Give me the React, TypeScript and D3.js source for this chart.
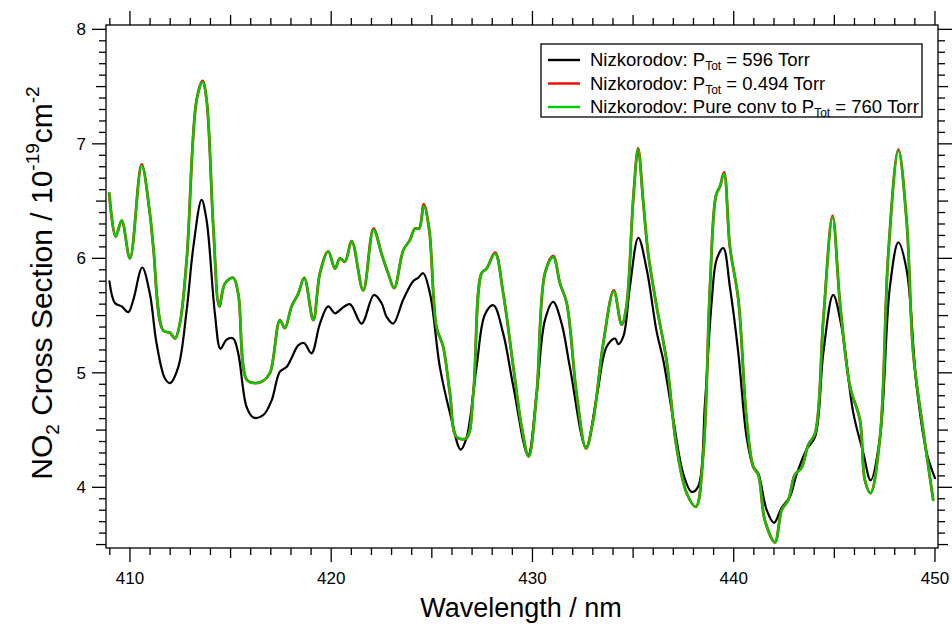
import React from "react";
import * as d3 from "d3";

const greenWl = [408.97, 409.29, 409.59, 410.0, 410.58, 410.99, 411.16, 411.65, 411.99, 412.24, 412.48, 412.82, 413.31, 413.61, 413.81, 414.14, 414.44, 414.72, 415.13, 415.38, 415.8, 416.21, 416.62, 416.96, 417.45, 417.7, 418.03, 418.36, 418.66, 419.11, 419.44, 419.85, 420.19, 420.43, 420.68, 421.02, 421.59, 422.1, 422.5, 422.83, 423.13, 423.58, 423.91, 424.16, 424.37, 424.6, 424.87, 425.23, 425.56, 425.9, 426.23, 426.72, 427.06, 427.47, 427.72, 428.14, 428.55, 429.05, 429.46, 429.81, 430.21, 430.62, 431.03, 431.37, 431.7, 432.19, 432.66, 433.02, 433.52, 434.04, 434.43, 434.67, 435.0, 435.25, 435.5, 435.75, 436.17, 436.66, 437.16, 437.66, 438.12, 438.49, 438.82, 439.12, 439.32, 439.52, 439.81, 440.23, 440.64, 440.97, 441.22, 441.55, 442.05, 442.38, 442.71, 443.04, 443.37, 443.7, 444.04, 444.45, 444.91, 445.28, 445.78, 446.27, 446.52, 446.8, 447.27, 447.68, 448.18, 448.59, 448.92, 449.34, 449.91];
const greenVal = [6.57, 6.19, 6.33, 6.0, 6.81, 6.39, 6.1, 5.37, 5.35, 5.3, 5.43, 5.99, 7.38, 7.54, 7.38, 6.28, 5.58, 5.78, 5.83, 5.69, 4.94, 4.91, 4.93, 5.0, 5.46, 5.39, 5.58, 5.69, 5.83, 5.46, 5.87, 6.06, 5.91, 6.0, 5.97, 6.15, 5.72, 6.25, 6.04, 5.87, 5.74, 6.07, 6.16, 6.26, 6.26, 6.46, 6.25, 5.4, 5.23, 4.82, 4.44, 4.43, 4.82, 5.87, 5.91, 6.04, 5.69, 5.05, 4.53, 4.27, 4.82, 5.87, 6.01, 5.78, 5.61, 4.82, 4.34, 4.59, 5.26, 5.71, 5.42, 5.58, 6.5, 6.95, 6.5, 6.04, 5.58, 5.11, 4.35, 3.95, 3.83, 4.3, 5.75, 6.55, 6.63, 6.74, 6.1, 5.64, 4.59, 4.18, 4.11, 3.71, 3.52, 3.8, 3.89, 4.11, 4.17, 4.37, 4.47, 5.46, 6.36, 5.61, 4.88, 4.59, 4.06, 3.95, 4.44, 6.04, 6.94, 6.33, 5.17, 4.59, 3.89];
const redVal = [6.57, 6.19, 6.33, 6.0, 6.82, 6.39, 6.1, 5.37, 5.35, 5.3, 5.43, 5.99, 7.38, 7.55, 7.38, 6.28, 5.58, 5.78, 5.83, 5.69, 4.94, 4.91, 4.93, 5.0, 5.46, 5.39, 5.58, 5.69, 5.83, 5.46, 5.87, 6.06, 5.91, 6.0, 5.97, 6.15, 5.72, 6.26, 6.04, 5.87, 5.74, 6.07, 6.16, 6.26, 6.26, 6.47, 6.25, 5.4, 5.23, 4.82, 4.44, 4.43, 4.82, 5.87, 5.91, 6.05, 5.69, 5.05, 4.53, 4.27, 4.82, 5.87, 6.02, 5.78, 5.61, 4.82, 4.34, 4.59, 5.26, 5.72, 5.42, 5.58, 6.5, 6.96, 6.5, 6.04, 5.58, 5.11, 4.35, 3.95, 3.83, 4.3, 5.75, 6.55, 6.63, 6.75, 6.1, 5.64, 4.59, 4.18, 4.11, 3.71, 3.52, 3.8, 3.89, 4.11, 4.17, 4.37, 4.47, 5.46, 6.37, 5.61, 4.88, 4.59, 4.06, 3.95, 4.44, 6.04, 6.95, 6.33, 5.17, 4.59, 3.89];

const blackWl = [408.98, 409.25, 409.59, 409.92, 410.17, 410.61, 410.99, 411.32, 411.74, 411.99, 412.4, 412.82, 413.15, 413.56, 413.81, 414.22, 414.5, 414.8, 415.13, 415.38, 415.8, 416.13, 416.62, 417.04, 417.45, 417.78, 418.03, 418.36, 418.65, 419.02, 419.44, 419.85, 420.19, 420.51, 420.93, 421.51, 422.12, 422.5, 422.75, 423.08, 423.58, 424.07, 424.32, 424.57, 424.91, 425.4, 425.9, 426.43, 426.72, 427.22, 427.64, 428.06, 428.55, 429.05, 429.78, 430.21, 430.62, 431.03, 431.45, 431.86, 432.66, 433.19, 433.69, 434.1, 434.27, 434.52, 434.84, 435.26, 435.68, 436.17, 436.5, 437.0, 437.49, 437.91, 438.24, 438.57, 438.9, 439.15, 439.48, 439.81, 440.23, 440.64, 440.97, 441.22, 441.64, 442.0, 442.38, 442.8, 443.12, 443.62, 444.04, 444.45, 444.94, 445.36, 445.94, 446.44, 446.8, 447.27, 447.76, 448.18, 448.59, 449.09, 449.59, 450.0];
const blackVal = [5.8, 5.61, 5.58, 5.53, 5.64, 5.92, 5.69, 5.26, 4.95, 4.91, 5.05, 5.55, 6.1, 6.51, 6.33, 5.52, 5.21, 5.29, 5.3, 5.17, 4.7, 4.61, 4.63, 4.76, 5.01, 5.05, 5.13, 5.24, 5.26, 5.17, 5.43, 5.58, 5.52, 5.56, 5.6, 5.43, 5.68, 5.61, 5.49, 5.43, 5.64, 5.8, 5.83, 5.87, 5.69, 5.05, 4.65, 4.33, 4.43, 5.05, 5.51, 5.59, 5.34, 4.88, 4.28, 4.82, 5.46, 5.62, 5.43, 5.05, 4.35, 4.79, 5.23, 5.3, 5.25, 5.32, 5.75, 6.18, 5.9, 5.36, 5.11, 4.59, 4.12, 3.96, 4.01, 4.73, 5.61, 5.99, 6.09, 5.75, 5.17, 4.44, 4.18, 4.12, 3.8, 3.69, 3.82, 3.92, 4.11, 4.33, 4.44, 5.17, 5.68, 5.4, 4.65, 4.3, 4.06, 4.44, 5.75, 6.14, 5.9, 4.88, 4.3, 4.08];

const xMajor = [410, 420, 430, 440, 450];
const yMajor = [4, 5, 6, 7, 8];

const legendSeries = [
  { color: "#000000", pre: "Nizkorodov: P", post: " = 596 Torr" },
  { color: "#ff0000", pre: "Nizkorodov: P", post: " = 0.494 Torr" },
  { color: "#00cc00", pre: "Nizkorodov: Pure conv to P", post: " = 760 Torr" },
];

const W = 952, H = 626;
const L = 106, R = 938, T = 25, B = 548;
const FONT = "'Liberation Sans', Arial, Helvetica, sans-serif";

export default function App() {
  const x = d3.scaleLinear().domain([408.81, 450.15]).range([L, R]);
  const y = d3.scaleLinear().domain([3.47, 8.038]).range([B, T]);
  const line = d3
    .line<[number, number]>()
    .x((d) => x(d[0]))
    .y((d) => y(d[1]))
    .curve(d3.curveCatmullRom.alpha(0.5));
  const zip = (a: number[], b: number[]) => a.map((v, i) => [v, b[i]] as [number, number]);

  const xMinor = d3.range(409, 451, 1).filter((v) => v % 10 !== 0);
  const yMinor = d3.range(35, 80, 1).filter((v) => v % 10 !== 0).map((v) => v / 10);
  const tickLen = (isMid: boolean) => (isMid ? 10 : 7);

  return (
    <svg width={W} height={H} style={{ position: "absolute", left: 0, top: 0, background: "#fff" }} fontFamily={FONT}>
      <defs>
        <clipPath id="plot">
          <rect x={L} y={T} width={R - L} height={B - T} />
        </clipPath>
      </defs>
      <rect x={0} y={0} width={W} height={H} fill="#fff" />
      <g clipPath="url(#plot)" fill="none" strokeLinejoin="round" strokeLinecap="round">
        <path d={line(zip(blackWl, blackVal)) || ""} stroke="#000" strokeWidth={2.2} />
        <path d={line(zip(greenWl, redVal)) || ""} stroke="#ff0000" strokeWidth={2.8} />
        <path d={line(zip(greenWl, greenVal)) || ""} stroke="#00cc00" strokeWidth={2.4} />
      </g>
      <rect x={L} y={T} width={R - L} height={B - T} fill="none" stroke="#000" strokeWidth={1.3} />
      <g stroke="#000" strokeWidth={1.3}>
        {xMajor.map((v) => (
          <g key={"xm" + v}>
            <line x1={x(v)} x2={x(v)} y1={B} y2={B + 14} />
            <line x1={x(v)} x2={x(v)} y1={T} y2={T - 14} />
          </g>
        ))}
        {xMinor.map((v) => {
          const len = tickLen(v % 5 === 0);
          return (
            <g key={"xn" + v}>
              <line x1={x(v)} x2={x(v)} y1={B} y2={B + len} />
              <line x1={x(v)} x2={x(v)} y1={T} y2={T - len} />
            </g>
          );
        })}
        {yMajor.map((v) => (
          <g key={"ym" + v}>
            <line x1={L} x2={L - 14} y1={y(v)} y2={y(v)} />
            <line x1={R} x2={R + 14} y1={y(v)} y2={y(v)} />
          </g>
        ))}
        {yMinor.map((v) => {
          const len = tickLen(Math.round(v * 10) % 5 === 0);
          return (
            <g key={"yn" + v}>
              <line x1={L} x2={L - len} y1={y(v)} y2={y(v)} />
              <line x1={R} x2={R + len} y1={y(v)} y2={y(v)} />
            </g>
          );
        })}
      </g>
      <g fontSize={17} fill="#000">
        {xMajor.map((v) => (
          <text key={"xl" + v} x={x(v)} y={584} textAnchor="middle">
            {v}
          </text>
        ))}
        {yMajor.map((v) => (
          <text key={"yl" + v} x={86} y={y(v) + 6} textAnchor="end">
            {v}
          </text>
        ))}
      </g>
      <text x={521} y={617} textAnchor="middle" fontSize={27} fill="#000">
        Wavelength / nm
      </text>
      <text transform="translate(52,283) rotate(-90)" textAnchor="middle" fontSize={30} fill="#000">
        NO
        <tspan fontSize={19} dy={7}>2</tspan>
        <tspan dy={-7}> Cross Section / 10</tspan>
        <tspan fontSize={19} dy={-13}>-19</tspan>
        <tspan dy={13}>cm</tspan>
        <tspan fontSize={19} dy={-13}>-2</tspan>
      </text>
      <rect x={541} y={44} width={381} height={73} fill="#fff" stroke="#000" strokeWidth={1.3} />
      {legendSeries.map((s, i) => {
        const cy = 60 + i * 23.5;
        return (
          <g key={"lg" + i}>
            <line x1={548} x2={580} y1={cy} y2={cy} stroke={s.color} strokeWidth={2.4} />
            <text x={590} y={cy + 6} fontSize={18.5} fill="#000">
              {s.pre}
              <tspan fontSize={12} dy={4}>Tot</tspan>
              <tspan dy={-4}>{s.post}</tspan>
            </text>
          </g>
        );
      })}
    </svg>
  );
}
